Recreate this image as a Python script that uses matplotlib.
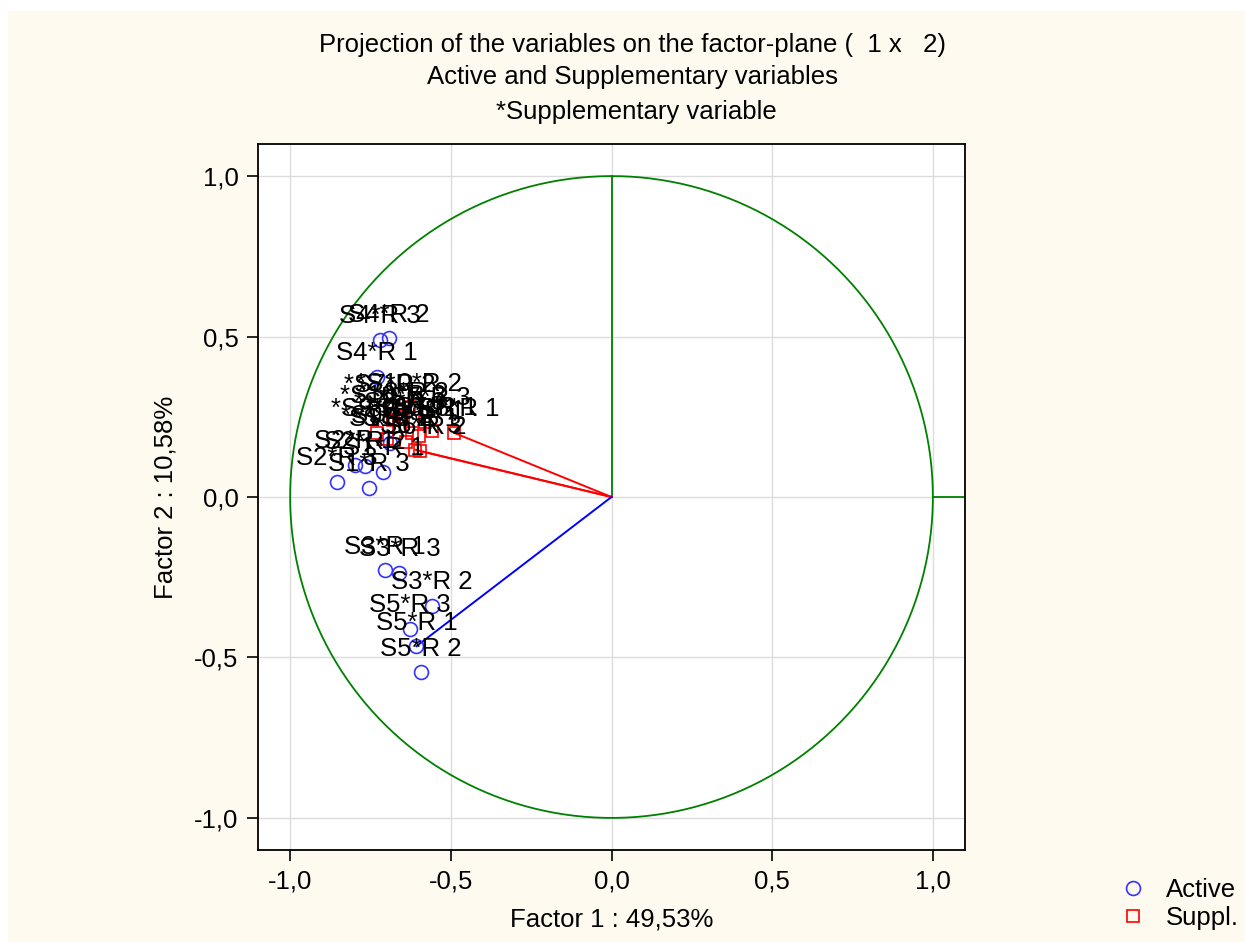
import numpy as np
import matplotlib
matplotlib.use("Agg")
import matplotlib.pyplot as plt
from matplotlib.patches import Rectangle
from matplotlib.ticker import FuncFormatter

plt.rcParams["font.family"] = ["Liberation Sans", "DejaVu Sans"]

# active variables (factor 1, factor 2)
active_names = ["S1*R 1", "S1*R 2", "S1*R 3",
                "S2*R 1", "S2*R 2", "S2*R 3",
                "S3*R 1", "S3*R 2", "S3*R 3",
                "S4*R 1", "S4*R 2", "S4*R 3",
                "S5*R 1", "S5*R 2", "S5*R 3"]
active_f1 = [-0.710, -0.690, -0.754,
             -0.798, -0.767, -0.855,
             -0.705, -0.558, -0.660,
             -0.730, -0.693, -0.720,
             -0.607, -0.593, -0.627]
active_f2 = [0.078, 0.168, 0.028,
             0.100, 0.097, 0.047,
             -0.228, -0.339, -0.237,
             0.375, 0.495, 0.490,
             -0.465, -0.546, -0.411]

# supplementary variables
suppl_names = ["*S6*R 1", "*S6*R 2", "*S6*R 3",
               "*S7*R 1", "*S7*R 2", "*S7*R 3",
               "*S8*R 1", "*S8*R 2", "*S8*R 3",
               "*S9*R 1", "*S9*R 2", "*S9*R 3",
               "*S10*R 1", "*S10*R 2", "*S10*R 3"]
suppl_f1 = [-0.490, -0.595, -0.610,
            -0.560, -0.690, -0.580,
            -0.600, -0.650, -0.660,
            -0.620, -0.700, -0.730,
            -0.640, -0.630, -0.680]
suppl_f2 = [0.200, 0.143, 0.147,
            0.205, 0.275, 0.235,
            0.190, 0.250, 0.220,
            0.200, 0.180, 0.200,
            0.170, 0.280, 0.240]

# variables drawn as vectors from the origin
active_vectors = ["S5*R 1"]
suppl_vectors = ["*S6*R 1", "*S6*R 2", "*S6*R 3"]

fig = plt.figure(figsize=(12.45, 9.42), dpi=100)
fig.patch.set_facecolor("white")
fig.patches.append(Rectangle((8 / 1245, 0), 1, 1 - 11 / 942, transform=fig.transFigure,
                             facecolor="#fefaf0", edgecolor="none", zorder=-10))

ax = fig.add_axes([258 / 1245, 1 - 850 / 942, 707 / 1245, 706 / 942])
ax.set_facecolor("white")
ax.set_xlim(-1.1, 1.1)
ax.set_ylim(-1.1, 1.1)

ticks = [-1.0, -0.5, 0.0, 0.5, 1.0]
ax.set_xticks(ticks)
ax.set_yticks(ticks)
fmt = FuncFormatter(lambda v, p: ("%.1f" % v).replace(".", ",").replace("-0,0", "0,0"))
ax.xaxis.set_major_formatter(fmt)
ax.yaxis.set_major_formatter(fmt)
ax.tick_params(labelsize=18.5, length=8, width=1.2, direction="out", pad=6)
ax.grid(True, color="#dcdcdc", linewidth=1)
ax.set_axisbelow(True)
for s in ax.spines.values():
    s.set_linewidth(1.3)

# unit circle and green axes
theta = np.linspace(0, 2 * np.pi, 400)
ax.plot(np.cos(theta), np.sin(theta), color="#008000", lw=1.3, zorder=2)
ax.plot([0, 0], [0, 1], color="#008000", lw=1.3, zorder=2)
ax.plot([1, 1.1], [0, 0], color="#008000", lw=1.3, zorder=2)

for n in suppl_vectors:
    i = suppl_names.index(n)
    ax.plot([0, suppl_f1[i]], [0, suppl_f2[i]], color="red", lw=1.4, zorder=3)
for n in active_vectors:
    i = active_names.index(n)
    ax.plot([0, active_f1[i]], [0, active_f2[i]], color="blue", lw=1.4, zorder=3)

ax.plot(active_f1, active_f2, "o", ms=10, mfc="none", mec="#3333ff", mew=1.2,
        ls="none", label="Active", zorder=4)
ax.plot(suppl_f1, suppl_f2, "s", ms=9, mfc="none", mec="red", mew=1.2,
        ls="none", label="Suppl.", zorder=4)

for n, x, y in zip(active_names + suppl_names, active_f1 + suppl_f1, active_f2 + suppl_f2):
    ax.annotate(n, (x, y), xytext=(0, 17), textcoords="offset points",
                ha="center", va="center", fontsize=18.5, zorder=5)

ax.set_xlabel("Factor 1 : 49,53%", fontsize=18.5, labelpad=10)
ax.set_ylabel("Factor 2 : 10,58%", fontsize=18.5, labelpad=12)

fig.text(632 / 1245, 1 - 45 / 942, "Projection of the variables on the factor-plane (  1 x   2)",
         ha="center", va="center", fontsize=18.5)
fig.text(632 / 1245, 1 - 77 / 942, "Active and Supplementary variables",
         ha="center", va="center", fontsize=18.5)
fig.text(636 / 1245, 1 - 112 / 942, "*Supplementary variable",
         ha="center", va="center", fontsize=18.5)

fig.legend(loc="lower left", bbox_to_anchor=(1091 / 1245, -0.012), frameon=False,
           fontsize=18.5, handletextpad=0.5, labelspacing=0.15, handlelength=1.5)

fig.savefig("out.png", dpi=100, facecolor=fig.get_facecolor())
